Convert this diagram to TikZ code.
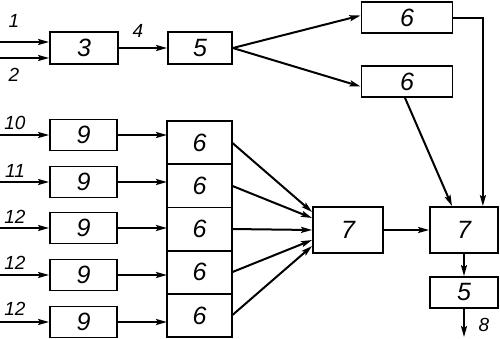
\documentclass[tikz,border=0pt]{standalone}
\usepackage{fontspec}
\setmainfont{Liberation Sans}
\usetikzlibrary{arrows.meta, positioning}
\tikzset{
	blk/.style={draw, line width=1.8pt, inner sep=0pt, font=\itshape\fontsize{25}{25}\selectfont},
	cell/.style={blk, outer sep=0pt, minimum width=65pt, minimum height=43.2pt},
	nine/.style={blk, minimum width=67pt, minimum height=31pt},
	lab/.style={inner sep=0pt, font=\itshape\fontsize{19}{19}\selectfont},
	arr/.style={-{Stealth[length=11pt, width=6pt, inset=2pt]}, line width=2pt}
}

\begin{document}
\begin{tikzpicture}[x=1pt, y=-1pt]
	\useasboundingbox (0,0) rectangle (500,338);
	% top chain
	\node[blk, minimum width=68pt, minimum height=32pt] (b3) at (84,48) {3};
	\node[blk, minimum width=64pt, minimum height=32pt] (b5a) at (200,48) {5};
	\node[blk, minimum width=91pt, minimum height=31pt] (b6a) at (407,17.5) {6};
	\node[blk, minimum width=91pt, minimum height=31pt] (b6b) at (407,81.5) {6};
	\coordinate (i1) at (0,42);
	\coordinate (i2) at (0,58);
	\node[lab] (l1) at (14,21) {1};
	\node[lab] (l2) at (14,75) {2};
	\node[lab] (l4) at (138,31) {4};
	\draw[arr] (i1) -- (i1 -| b3.west);
	\draw[arr] (i2) -- (i2 -| b3.west);
	\draw[arr] (b3) -- (b5a);
	\draw[arr] (b5a.east) -- ([yshift=2pt]b6a.west);
	\draw[arr] (b5a.east) -- ([yshift=-5pt]b6b.west);
	% left rows
	\node[nine] (n9a) at (83.5,135) {9};
	\node[nine] (n9b) at (83.5,182) {9};
	\node[nine] (n9c) at (83.5,228) {9};
	\node[nine] (n9d) at (83.5,275) {9};
	\node[nine] (n9e) at (83.5,322) {9};
	\node[cell] (c1) at (199.5,142.6) {6};
	\node[cell, below=0pt of c1] (c2) {6};
	\node[cell, below=0pt of c2] (c3) {6};
	\node[cell, below=0pt of c3] (c4) {6};
	\node[cell, below=0pt of c4] (c5) {6};
	\coordinate (i10) at (0,135);
	\coordinate (i11) at (0,182);
	\coordinate (i12a) at (0,228);
	\coordinate (i12b) at (0,275);
	\coordinate (i12c) at (0,322);
	\node[lab] (l10) at (15,123) {10};
	\node[lab] (l11) at (15,171) {11};
	\node[lab] (l12a) at (15,217) {12};
	\node[lab] (l12b) at (15,263) {12};
	\node[lab] (l12c) at (15,309) {12};
	\draw[arr] (i10) -- (n9a);
	\draw[arr] (i11) -- (n9b);
	\draw[arr] (i12a) -- (n9c);
	\draw[arr] (i12b) -- (n9d);
	\draw[arr] (i12c) -- (n9e);
	\draw[arr] (n9a.east) -- (n9a.east -| c1.west);
	\draw[arr] (n9b.east) -- (n9b.east -| c2.west);
	\draw[arr] (n9c.east) -- (n9c.east -| c3.west);
	\draw[arr] (n9d.east) -- (n9d.east -| c4.west);
	\draw[arr] (n9e.east) -- (n9e.east -| c5.west);
	% joining blocks
	\node[blk, minimum width=70pt, minimum height=46pt] (b7m) at (348,230) {7};
	\node[blk, minimum width=68pt, minimum height=46pt] (b7r) at (464,230) {7};
	\node[blk, minimum width=68pt, minimum height=31pt] (b5b) at (464,292.5) {5};
	\coordinate (out) at (464,337);
	\node[lab] (l8) at (484,325) {8};
	\draw[arr] (c1.east) -- ([yshift=18pt]b7m.west);
	\draw[arr] (c2.east) -- ([yshift=12pt]b7m.west);
	\draw[arr] (c3.east) -- (b7m.west);
	\draw[arr] (c4.east) -- ([yshift=-10pt]b7m.west);
	\draw[arr] (c5.east) -- ([yshift=-16pt]b7m.west);
	\draw[arr] (b7m) -- (b7r);
	\draw[arr] (b6a.east) -| ([xshift=-16pt]b7r.north east);
	\draw[arr] ([xshift=-2pt]b6b.south) -- ([xshift=-12pt]b7r.north);
	\draw[arr] (b7r) -- (b5b);
	\draw[arr] (b5b) -- (out);
\end{tikzpicture}
\end{document}
